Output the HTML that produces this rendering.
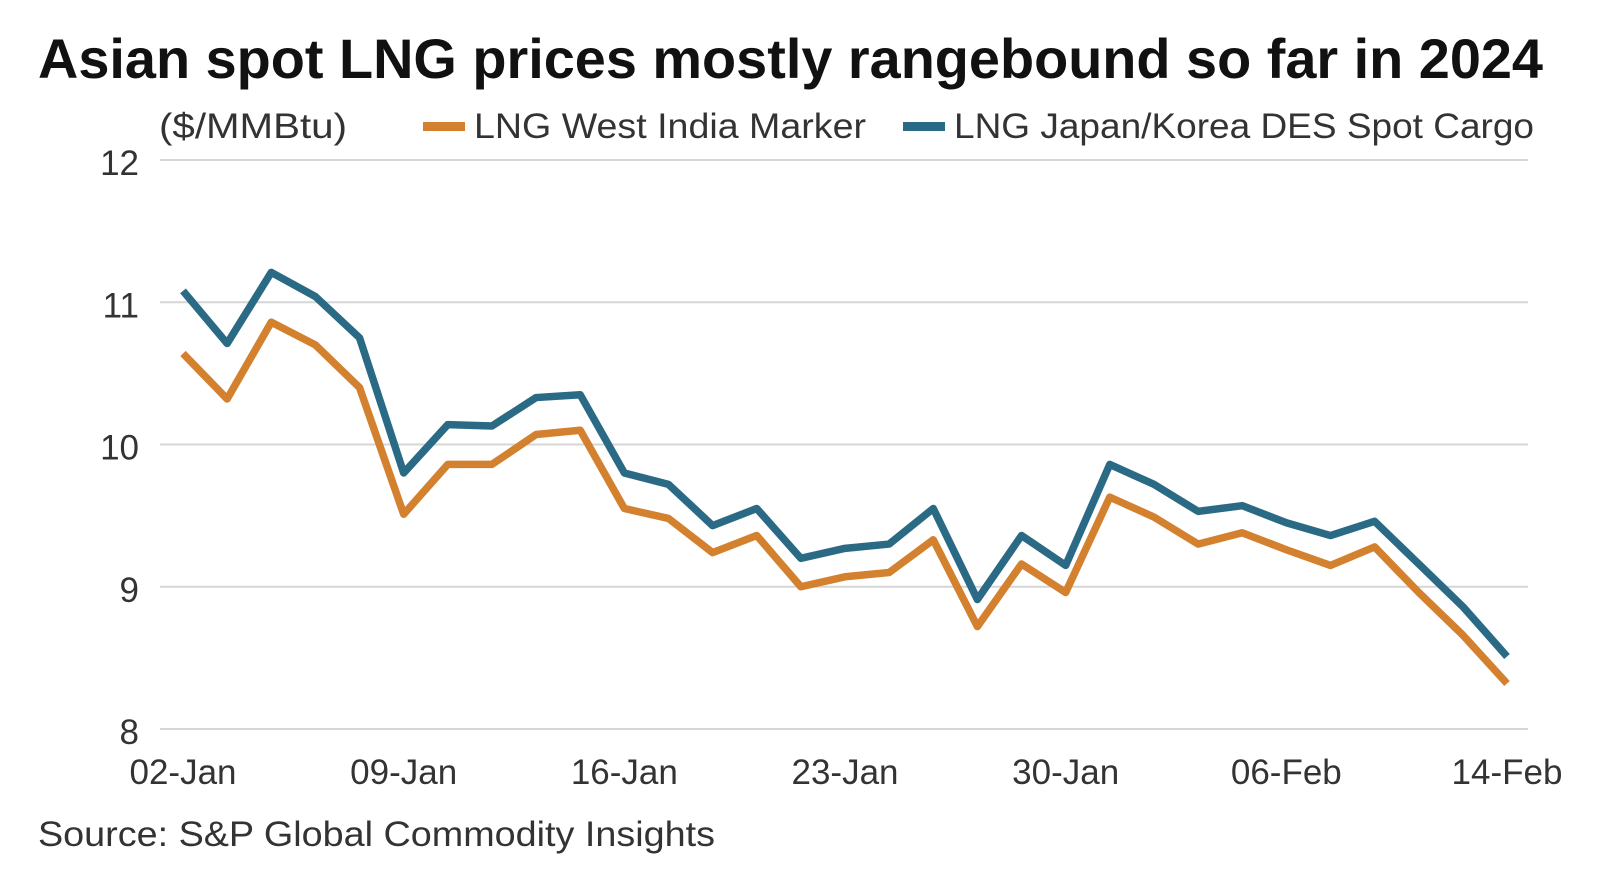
<!DOCTYPE html>
<html><head><meta charset="utf-8"><style>
html,body{margin:0;padding:0;background:#fff;}
svg{display:block;font-family:"Liberation Sans",sans-serif;}
</style></head><body>
<svg id="chart" width="1618" height="880" viewBox="0 0 1618 880">
<text x="38" y="78" font-size="56" font-weight="bold" fill="#111" textLength="1505" lengthAdjust="spacingAndGlyphs">Asian spot LNG prices mostly rangebound so far in 2024</text>
<text x="159" y="138" font-size="35" fill="#333" textLength="188" lengthAdjust="spacingAndGlyphs">($/MMBtu)</text>
<g>
<rect x="423" y="122" width="42" height="9" fill="#d4812f"/>
<text x="474" y="138" font-size="35" fill="#333" textLength="392" lengthAdjust="spacingAndGlyphs">LNG West India Marker</text>
<rect x="903" y="122" width="42" height="9" fill="#2b6a85"/>
<text x="954" y="138" font-size="35" fill="#333" textLength="580" lengthAdjust="spacingAndGlyphs">LNG Japan/Korea DES Spot Cargo</text>
</g>
<g id="grid"></g><g id="ylabels"></g><g id="xlabels"></g><g id="lines"></g>
<text x="38" y="846" font-size="35" fill="#333" textLength="677" lengthAdjust="spacingAndGlyphs">Source: S&amp;P Global Commodity Insights</text>
</svg>
<script>
const yTicks=[8,9,10,11,12];
const xTickIdx=[0,5,10,15,20,25,30];
const xTickLabels=["02-Jan","09-Jan","16-Jan","23-Jan","30-Jan","06-Feb","14-Feb"];
const westIndia=[10.64,10.32,10.86,10.70,10.40,9.51,9.86,9.86,10.07,10.10,9.55,9.48,9.24,9.36,9.00,9.07,9.10,9.33,8.72,9.16,8.96,9.63,9.49,9.30,9.38,9.26,9.15,9.28,8.96,8.66,8.32];
const japanKorea=[11.08,10.71,11.21,11.04,10.75,9.80,10.14,10.13,10.33,10.35,9.80,9.72,9.43,9.55,9.20,9.27,9.30,9.55,8.91,9.36,9.15,9.86,9.72,9.53,9.57,9.45,9.36,9.46,9.16,8.86,8.51];
const NS="http://www.w3.org/2000/svg";
const x0=183,x1=1507,y8=729,y12=160;
function xs(i){return x0+(x1-x0)*i/30;}
function ys(v){return y8-(v-8)*(y8-y12)/4;}
function mk(t,a,p){const e=document.createElementNS(NS,t);for(const k in a)e.setAttribute(k,a[k]);document.getElementById(p).appendChild(e);return e;}
yTicks.forEach(v=>{
  const l=mk('line',{x1:160,x2:1528,y1:ys(v),y2:ys(v),stroke:'#d6d6d6','stroke-width':2},'grid');
  
  
  const t=mk('text',{x:139,y:ys(v)+15,'font-size':35,fill:'#333','text-anchor':'end'},'ylabels');
  t.textContent=v;
  
  
});
xTickIdx.forEach((i,k)=>{
  const t=mk('text',{x:xs(i),y:784,'font-size':35,fill:'#333','text-anchor':'middle'},'xlabels');
  t.textContent=xTickLabels[k];
  
  
});
function draw(arr,col,name){
  const p=mk('polyline',{points:arr.map((v,i)=>xs(i)+','+ys(v)).join(' '),fill:'none',stroke:col,'stroke-width':7.5,'stroke-linejoin':'round'},'lines');
  
  
}
draw(westIndia,'#d4812f','series-west-india');
draw(japanKorea,'#2b6a85','series-japan-korea');
</script>
</body></html>
